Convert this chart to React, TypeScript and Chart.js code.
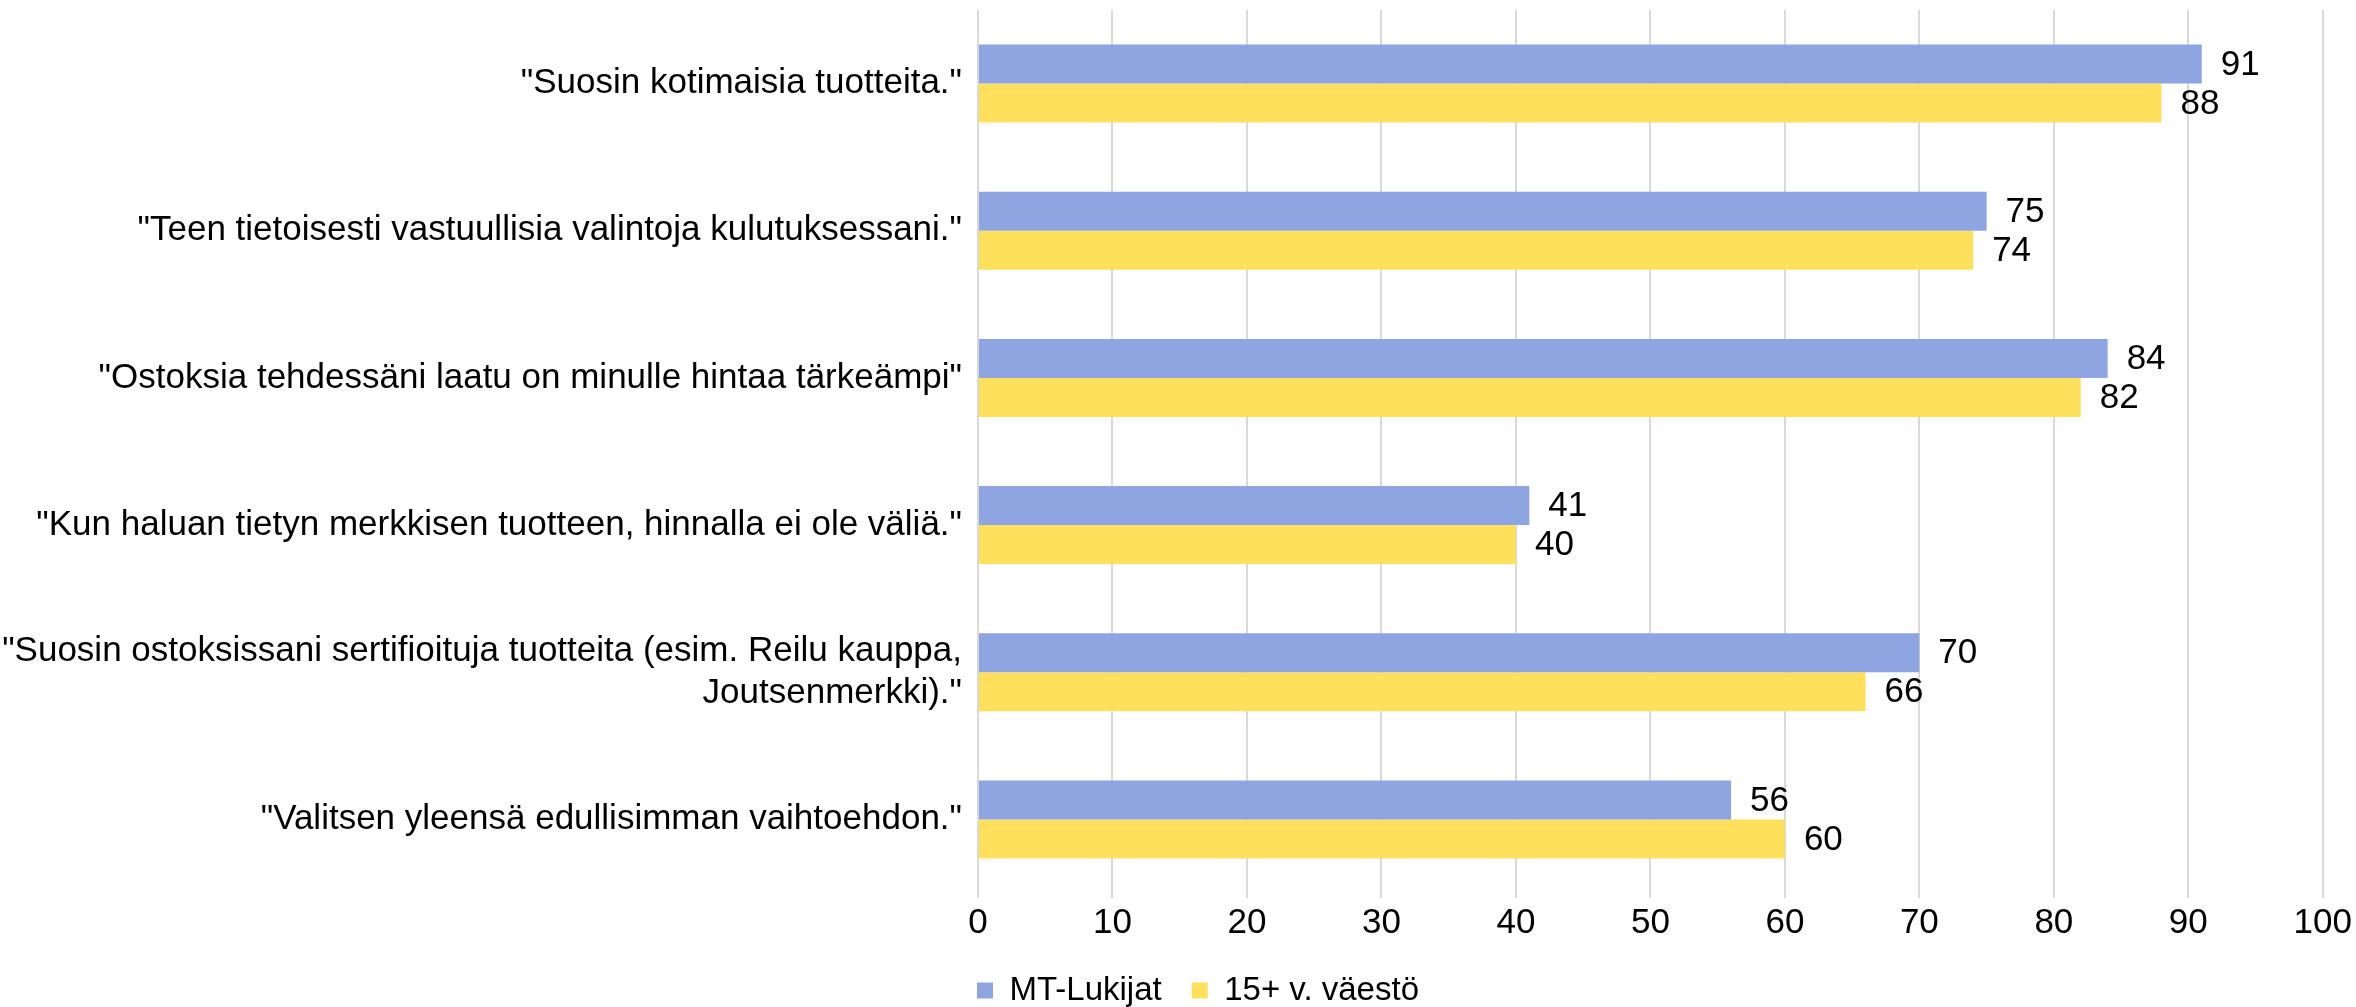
import React, { useEffect, useRef } from 'react';
import { Chart, registerables } from 'chart.js';

Chart.register(...registerables);

const categories: string[][] = [
  ['"Suosin kotimaisia tuotteita."'],
  ['"Teen tietoisesti vastuullisia valintoja kulutuksessani."'],
  ['"Ostoksia tehdessäni laatu on minulle hintaa tärkeämpi"'],
  ['"Kun haluan tietyn merkkisen tuotteen, hinnalla ei ole väliä."'],
  ['"Suosin ostoksissani sertifioituja tuotteita (esim. Reilu kauppa,', 'Joutsenmerkki)."'],
  ['"Valitsen yleensä edullisimman vaihtoehdon."'],
];
const seriesNames = ['MT-Lukijat', '15+ v. väestö'];
const mtLukijat = [91, 75, 84, 41, 70, 56];
const vaesto = [88, 74, 82, 40, 66, 60];
const xMin = 0;
const xMax = 100;
const xStep = 10;

const FONT = '"Liberation Sans", Arial, sans-serif';
const FS = 35;
const LEGEND_FS = 33;

const valueLabels = {
  id: 'valueLabels',
  afterDatasetsDraw(chart: any) {
    const ctx = chart.ctx;
    ctx.save();
    ctx.font = `${FS}px ${FONT}`;
    ctx.fillStyle = '#000';
    ctx.textAlign = 'left';
    ctx.textBaseline = 'middle';
    chart.data.datasets.forEach((ds: any, i: number) => {
      const meta = chart.getDatasetMeta(i);
      meta.data.forEach((el: any, j: number) => {
        ctx.fillText(String(ds.data[j]), el.x + 19, el.y + 1);
      });
    });
    ctx.restore();
  },
};

const legendShift = {
  id: 'legendShift',
  afterLayout(chart: any) {
    if (chart.legend) {
      chart.legend.left += 20;
      chart.legend.right += 20;
    }
  },
};

export default function App() {
  const ref = useRef<HTMLCanvasElement>(null);
  useEffect(() => {
    document.body.style.margin = '0';
    const chart = new Chart(ref.current!, {
      type: 'bar',
      data: {
        labels: categories,
        datasets: [
          { label: seriesNames[0], data: mtLukijat, backgroundColor: '#8FA5E2' },
          { label: seriesNames[1], data: vaesto, backgroundColor: '#FFE05C' },
        ],
      },
      options: {
        indexAxis: 'y',
        animation: false,
        responsive: false,
        maintainAspectRatio: false,
        devicePixelRatio: 1,
        categoryPercentage: 0.53,
        barPercentage: 1.0,
        layout: { padding: { top: 10, right: 0, left: 0, bottom: -10 } },
        scales: {
          x: {
            min: xMin,
            max: xMax,
            ticks: { stepSize: xStep, color: '#000', font: { family: FONT, size: FS }, padding: 4 },
            grid: { color: '#D9D9D9', lineWidth: 2, drawTicks: true, tickLength: 5 },
            border: { display: false },
            afterFit: (s: any) => { s.height = 51; },
          },
          y: {
            ticks: { color: '#000', font: { family: FONT, size: FS }, padding: 16 },
            grid: { display: false, drawTicks: false },
            border: { display: false },
            afterFit: (s: any) => { s.width = 978; s.paddingTop = 0; s.paddingBottom = 0; },
          },
        },
        plugins: {
          legend: {
            position: 'bottom',
            labels: {
              boxWidth: 16,
              boxHeight: 16,
              padding: 30,
              color: '#000',
              font: { family: FONT, size: LEGEND_FS },
            },
          },
          tooltip: { enabled: false },
        },
      },
      plugins: [valueLabels, legendShift],
    });
    return () => chart.destroy();
  }, []);
  return (
    <div style={{ width: 2356, height: 1007 }}>
      <canvas ref={ref} width={2356} height={1007} style={{ width: 2356, height: 1007 }} />
    </div>
  );
}
